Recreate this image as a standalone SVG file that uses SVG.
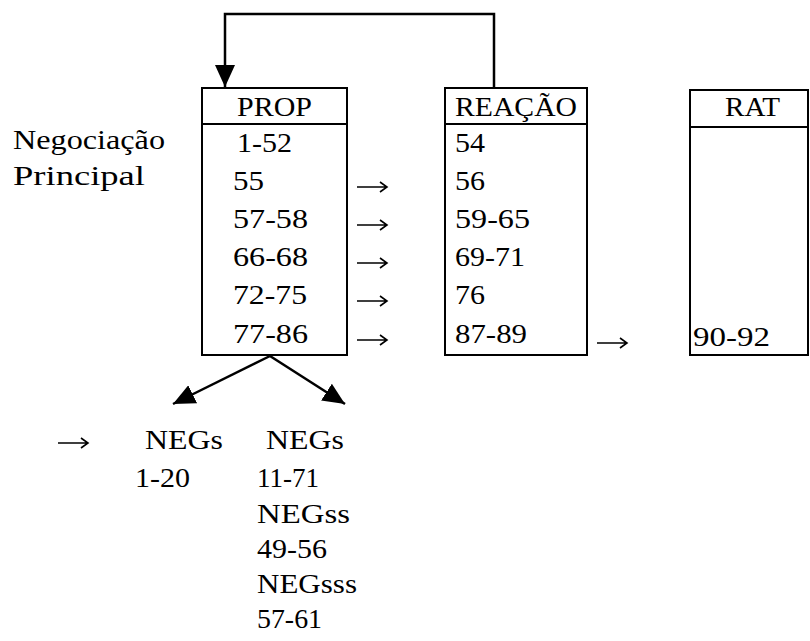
<svg xmlns="http://www.w3.org/2000/svg" width="810" height="641" viewBox="0 0 810 641">
<style>
text{font-family:"Liberation Serif","DejaVu Serif",serif;font-size:27px;fill:#000}
.box{fill:none;stroke:#000;stroke-width:2}
.conn{fill:none;stroke:#000;stroke-width:2.5}
.tarrow{fill:none;stroke:#000;stroke-width:1.6;stroke-linejoin:miter}
</style>
<defs>
<marker id="ah" markerUnits="userSpaceOnUse" viewBox="0 0 22 20" refX="22" refY="10" markerWidth="22" markerHeight="20" orient="auto">
<path d="M0,0 L22,10 L0,20 z" fill="#000"/>
</marker>
<path id="ta" d="M0,0 H30 M23,-5 L30,0 L23,5"/>
</defs>
<rect width="810" height="641" fill="#fff"/>
<g id="label-negociacao">
<text x="13" y="149" textLength="152" lengthAdjust="spacingAndGlyphs">Negociação</text>
<text x="13" y="185" textLength="132" lengthAdjust="spacingAndGlyphs">Principal</text>
</g>
<g id="prop">
<rect class="box" x="202" y="88" width="145" height="267"/>
<line class="box" x1="202" y1="124" x2="347" y2="124"/>
<text x="237" y="116" textLength="75" lengthAdjust="spacingAndGlyphs">PROP</text>
<text x="237" y="152" textLength="55" lengthAdjust="spacingAndGlyphs">1-52</text>
<text x="233" y="190" textLength="31" lengthAdjust="spacingAndGlyphs">55</text>
<text x="233" y="228" textLength="75" lengthAdjust="spacingAndGlyphs">57-58</text>
<text x="233" y="266" textLength="75" lengthAdjust="spacingAndGlyphs">66-68</text>
<text x="233" y="304" textLength="74" lengthAdjust="spacingAndGlyphs">72-75</text>
<text x="233" y="343" textLength="75" lengthAdjust="spacingAndGlyphs">77-86</text>
</g>
<g id="reacao">
<rect class="box" x="445" y="88" width="142" height="267"/>
<line class="box" x1="445" y1="124" x2="587" y2="124"/>
<text x="455" y="116" textLength="122" lengthAdjust="spacingAndGlyphs">REAÇÃO</text>
<text x="455" y="152" textLength="30" lengthAdjust="spacingAndGlyphs">54</text>
<text x="455" y="190" textLength="30" lengthAdjust="spacingAndGlyphs">56</text>
<text x="455" y="228" textLength="75" lengthAdjust="spacingAndGlyphs">59-65</text>
<text x="455" y="266" textLength="70" lengthAdjust="spacingAndGlyphs">69-71</text>
<text x="455" y="304" textLength="30" lengthAdjust="spacingAndGlyphs">76</text>
<text x="455" y="343" textLength="72" lengthAdjust="spacingAndGlyphs">87-89</text>
</g>
<g id="rat">
<rect class="box" x="690" y="90" width="118" height="265"/>
<line class="box" x1="690" y1="127" x2="808" y2="127"/>
<text x="725" y="116" textLength="55" lengthAdjust="spacingAndGlyphs">RAT</text>
<text x="693" y="346" textLength="77" lengthAdjust="spacingAndGlyphs">90-92</text>
</g>
<g id="negs-left">
<text x="145" y="449" textLength="78" lengthAdjust="spacingAndGlyphs">NEGs</text>
<text x="135" y="487" textLength="55" lengthAdjust="spacingAndGlyphs">1-20</text>
</g>
<g id="negs-right">
<text x="266" y="449" textLength="78" lengthAdjust="spacingAndGlyphs">NEGs</text>
<text x="257" y="487" textLength="62" lengthAdjust="spacingAndGlyphs">11-71</text>
<text x="257" y="523" textLength="93" lengthAdjust="spacingAndGlyphs">NEGss</text>
<text x="257" y="558" textLength="70" lengthAdjust="spacingAndGlyphs">49-56</text>
<text x="257" y="593" textLength="100" lengthAdjust="spacingAndGlyphs">NEGsss</text>
<text x="257" y="628" textLength="65" lengthAdjust="spacingAndGlyphs">57-61</text>
</g>
<g id="connectors">
<path class="conn" d="M494,88 V14 H225 V87" marker-end="url(#ah)"/>
<path class="conn" d="M270,356 L173,404" marker-end="url(#ah)"/>
<path class="conn" d="M270,356 L345,404" marker-end="url(#ah)"/>
<use href="#ta" class="tarrow" x="357" y="187"/>
<use href="#ta" class="tarrow" x="357" y="225"/>
<use href="#ta" class="tarrow" x="357" y="263"/>
<use href="#ta" class="tarrow" x="357" y="301"/>
<use href="#ta" class="tarrow" x="357" y="340"/>
<use href="#ta" class="tarrow" x="597" y="343"/>
<use href="#ta" class="tarrow" x="58" y="443"/>
</g>
</svg>
